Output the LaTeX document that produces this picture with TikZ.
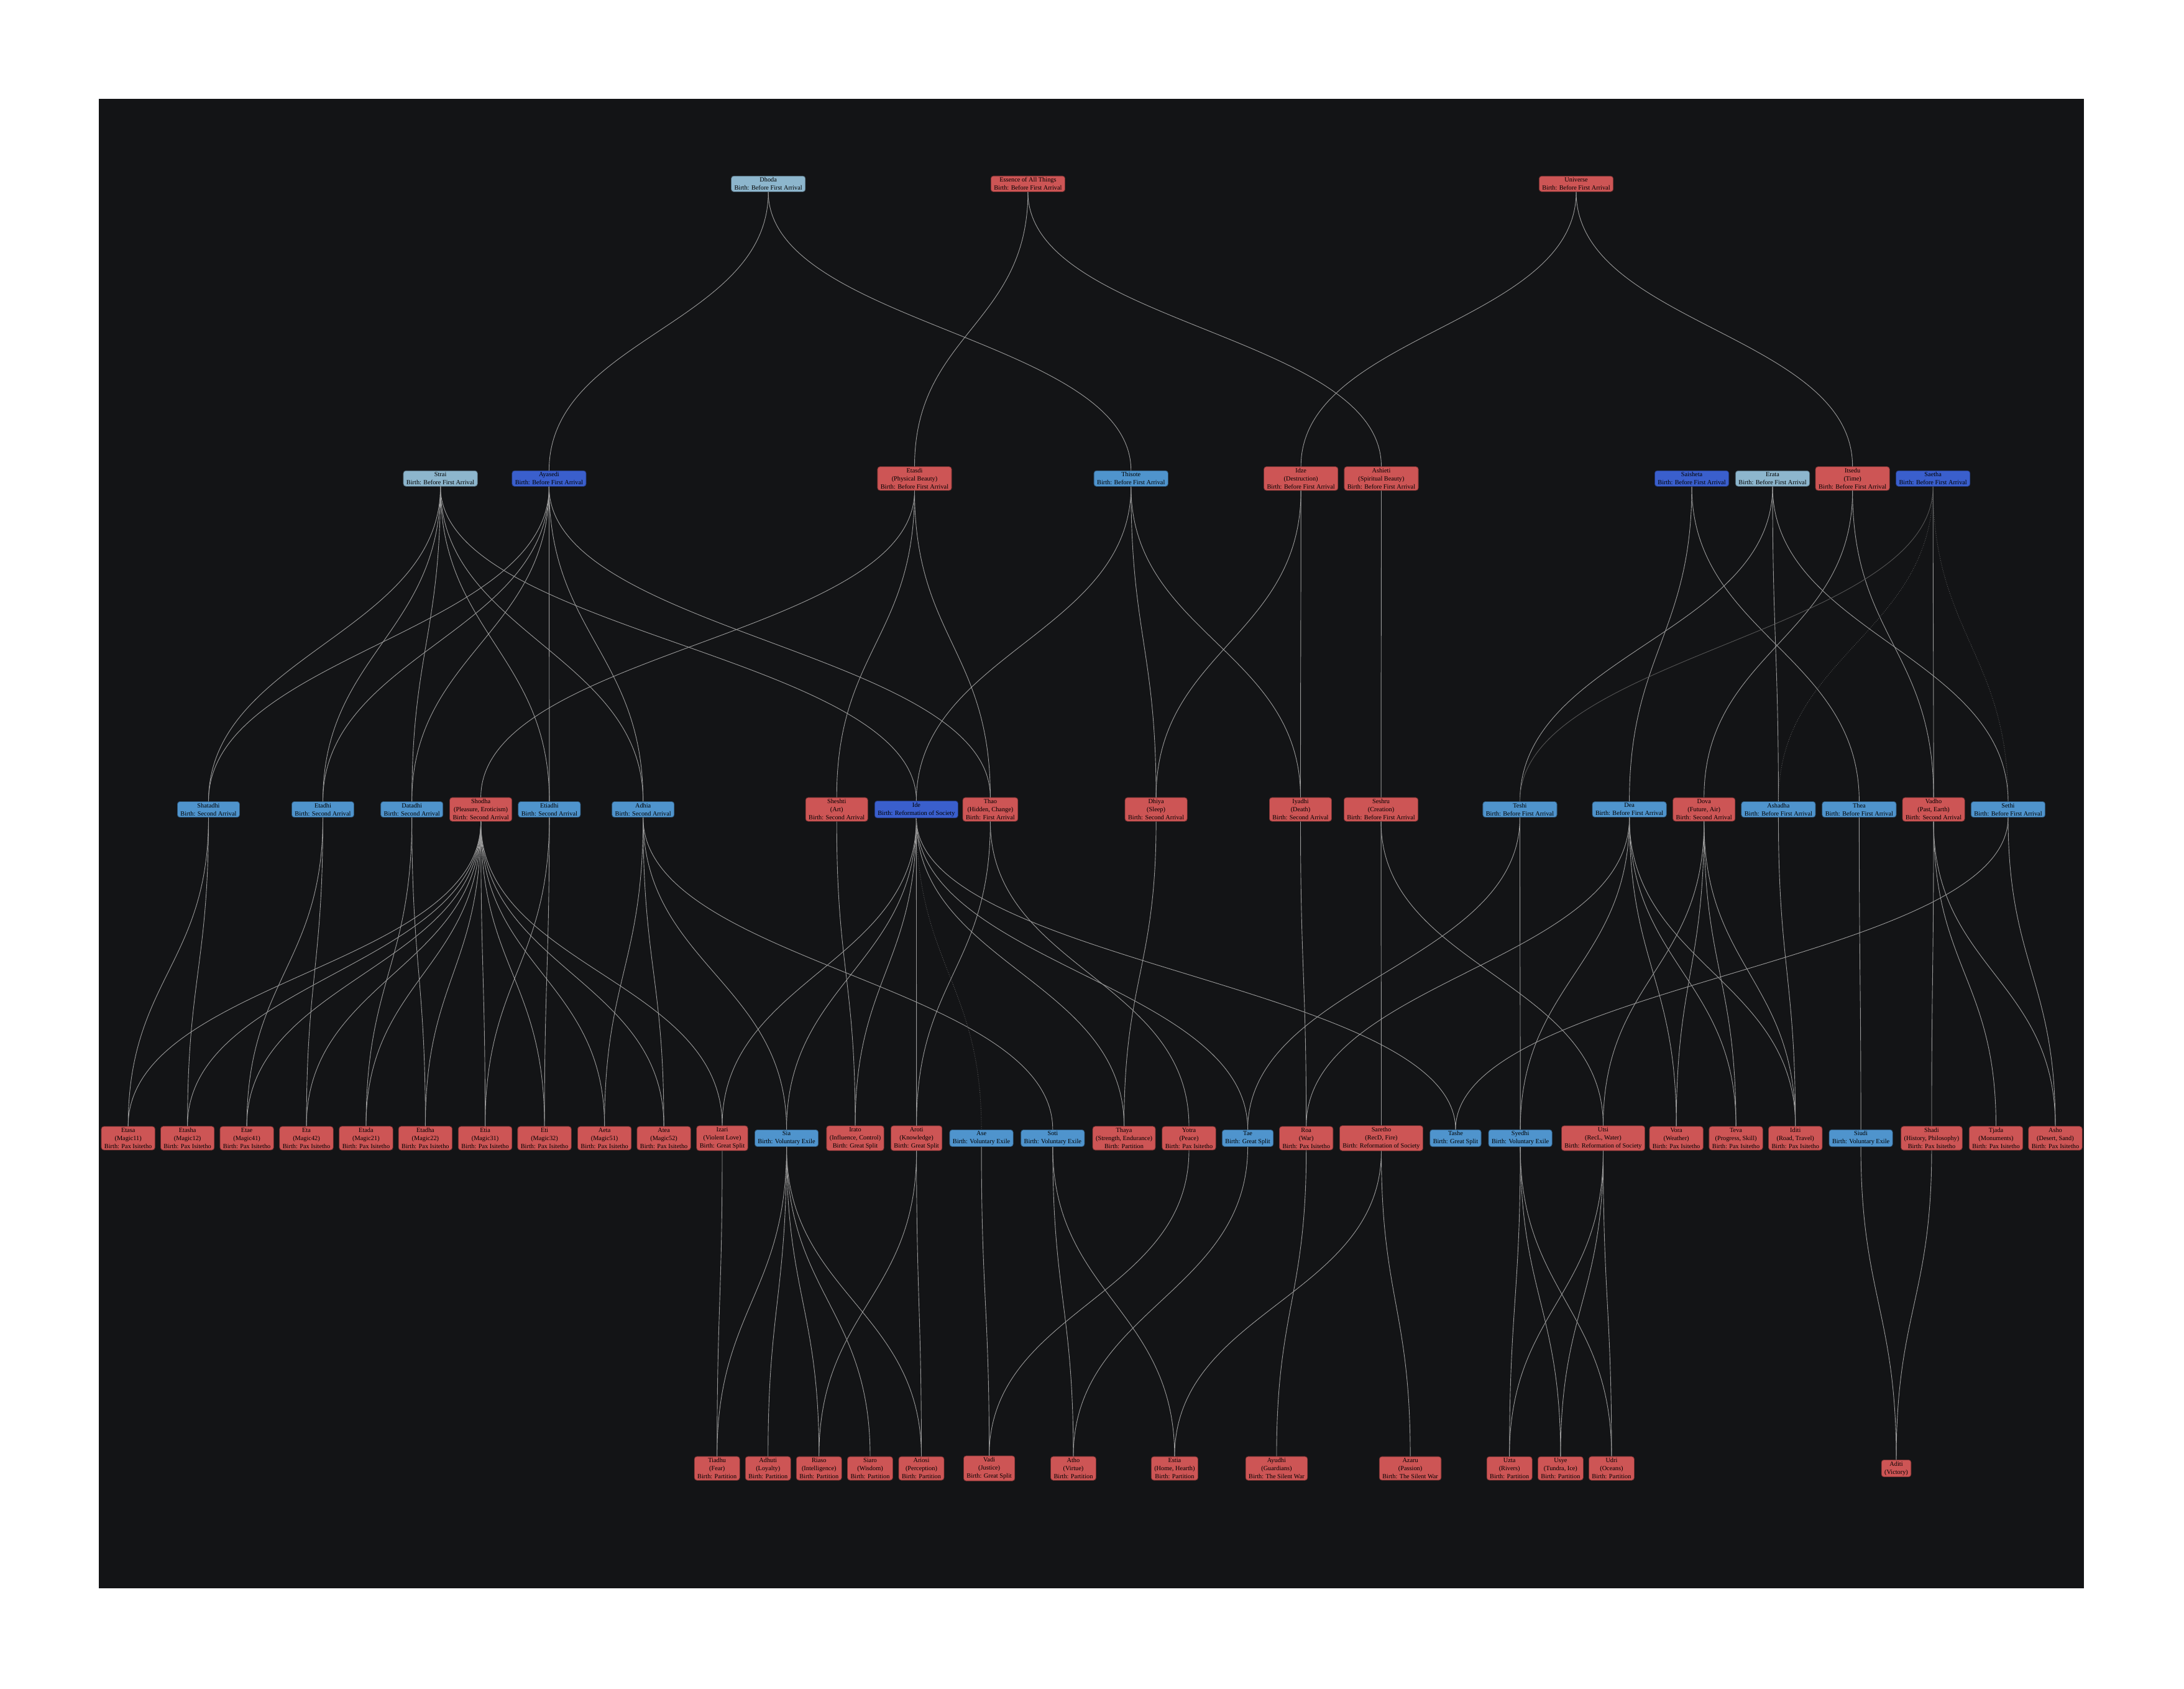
\documentclass[tikz,border=0pt]{standalone}
\usepackage{fontspec}
\setmainfont{Liberation Serif}
\definecolor{cred}{HTML}{CD5555}
\definecolor{clight}{HTML}{8DB6CD}
\definecolor{csteel}{HTML}{4F94CD}
\definecolor{croyal}{HTML}{3A5FCD}
\definecolor{cbg}{HTML}{131416}
\definecolor{cedge}{HTML}{9A9A9A}
\begin{document}
\begin{tikzpicture}[x=2.2411pt,y=-2.2411pt,
  box/.style={rounded corners=4pt, line width=0.8pt, align=center,
    font=\fontsize{10.3}{13}\selectfont, inner xsep=5pt, inner ysep=2.5pt, text=black},
  nred/.style={box, fill=cred, draw=cred!55!black},
  nlight/.style={box, fill=clight, draw=clight!55!black},
  nsteel/.style={box, fill=csteel, draw=csteel!55!black},
  nroyal/.style={box, fill=croyal, draw=croyal!55!black},
  edge/.style={draw=cedge, line width=0.9pt},
  darkedge/.style={draw=cedge!55!black, line width=0.9pt},
  dedge/.style={draw=cedge!60!black, line width=0.9pt, dotted},
  lk/.style={to path={.. controls +(0,#1) and +(0,-#1) .. (\tikztotarget)}}]
\useasboundingbox (0,0) rectangle (1568,1212);
\fill[white] (0,0) rectangle (1568,1212);
\fill[cbg] (71,71) rectangle (1496,1140);
% row 1
\node[nlight] (dhoda) at (551.6,132) {Dhoda\\Birth: Before First Arrival};
\node[nred] (essence) at (738,132) {Essence of All Things\\Birth: Before First Arrival};
\node[nred] (universe) at (1131.6,132) {Universe\\Birth: Before First Arrival};
% row 2
\node[nlight] (strai) at (316.2,343.5) {Strai\\Birth: Before First Arrival};
\node[nroyal] (ayasedi) at (394.2,343.5) {Ayasedi\\Birth: Before First Arrival};
\node[nred] (etasdi) at (656.6,343.5) {Etasdi\\(Physical Beauty)\\Birth: Before First Arrival};
\node[nsteel] (thisote) at (812,343.5) {Thisote\\Birth: Before First Arrival};
\node[nred] (idze) at (934,343.5) {Idze\\(Destruction)\\Birth: Before First Arrival};
\node[nred] (ashieti) at (991.7,343.5) {Ashieti\\(Spiritual Beauty)\\Birth: Before First Arrival};
\node[nroyal] (saisheta) at (1214.6,343.5) {Saisheta\\Birth: Before First Arrival};
\node[nlight] (erata) at (1272.6,343.5) {Erata\\Birth: Before First Arrival};
\node[nred] (itsedu) at (1330,343.5) {Itsedu\\(Time)\\Birth: Before First Arrival};
\node[nroyal] (saetha) at (1387.8,343.5) {Saetha\\Birth: Before First Arrival};
% row 3
\node[nsteel] (shatadhi) at (149.7,581) {Shatadhi\\Birth: Second Arrival};
\node[nsteel] (etadhi) at (231.8,581) {Etadhi\\Birth: Second Arrival};
\node[nsteel] (datadhi) at (295.7,581) {Datadhi\\Birth: Second Arrival};
\node[nred] (shodha) at (345.2,581) {Shodha\\(Pleasure, Eroticism)\\Birth: Second Arrival};
\node[nsteel] (etiadhi) at (394.4,581) {Etiadhi\\Birth: Second Arrival};
\node[nsteel] (adhia) at (461.7,581) {Adhia\\Birth: Second Arrival};
\node[nred] (sheshti) at (600.7,581) {Sheshti\\(Art)\\Birth: Second Arrival};
\node[nroyal] (ide) at (657.9,581) {Ide\\Birth: Reformation of Society};
\node[nred] (thao) at (711,581) {Thao\\(Hidden, Change)\\Birth: First Arrival};
\node[nred] (dhiya) at (830,581) {Dhiya\\(Sleep)\\Birth: Second Arrival};
\node[nred] (iyadhi) at (933.7,581) {Iyadhi\\(Death)\\Birth: Second Arrival};
\node[nred] (seshru) at (991.5,581) {Seshru\\(Creation)\\Birth: Before First Arrival};
\node[nsteel] (teshi) at (1091.2,581) {Teshi\\Birth: Before First Arrival};
\node[nsteel] (dea) at (1169.8,581) {Dea\\Birth: Before First Arrival};
\node[nred] (dova) at (1223.4,581) {Dova\\(Future, Air)\\Birth: Second Arrival};
\node[nsteel] (ashadha) at (1276.8,581) {Ashadha\\Birth: Before First Arrival};
\node[nsteel] (thea) at (1334.8,581) {Thea\\Birth: Before First Arrival};
\node[nred] (vadho) at (1388.2,581) {Vadho\\(Past, Earth)\\Birth: Second Arrival};
\node[nsteel] (sethi) at (1441.7,581) {Sethi\\Birth: Before First Arrival};
% row 4
\node[nred] (etasa) at (92,817) {Etasa\\(Magic11)\\Birth: Pax Isitetho};
\node[nred] (etasha) at (134.6,817) {Etasha\\(Magic12)\\Birth: Pax Isitetho};
\node[nred] (etae) at (177.2,817) {Etae\\(Magic41)\\Birth: Pax Isitetho};
\node[nred] (eta) at (220,817) {Eta\\(Magic42)\\Birth: Pax Isitetho};
\node[nred] (etada) at (262.8,817) {Etada\\(Magic21)\\Birth: Pax Isitetho};
\node[nred] (etadha) at (305.4,817) {Etadha\\(Magic22)\\Birth: Pax Isitetho};
\node[nred] (etia) at (348.3,817) {Etia\\(Magic31)\\Birth: Pax Isitetho};
\node[nred] (eti) at (390.9,817) {Eti\\(Magic32)\\Birth: Pax Isitetho};
\node[nred] (aeta) at (434,817) {Aeta\\(Magic51)\\Birth: Pax Isitetho};
\node[nred] (atea) at (476.6,817) {Atea\\(Magic52)\\Birth: Pax Isitetho};
\node[nred] (izari) at (518.5,817) {Izari\\(Violent Love)\\Birth: Great Split};
\node[nsteel] (sia) at (564.7,817) {Sia\\Birth: Voluntary Exile};
\node[nred] (irato) at (614,817) {Irato\\(Influence, Control)\\Birth: Great Split};
\node[nred] (aroti) at (658,817) {Aroti\\(Knowledge)\\Birth: Great Split};
\node[nsteel] (ase) at (704.6,817) {Ase\\Birth: Voluntary Exile};
\node[nsteel] (soti) at (755.8,817) {Soti\\Birth: Voluntary Exile};
\node[nred] (thaya) at (807,817) {Thaya\\(Strength, Endurance)\\Birth: Partition};
\node[nred] (yotra) at (853.6,817) {Yotra\\(Peace)\\Birth: Pax Isitetho};
\node[nsteel] (tae) at (895.8,817) {Tae\\Birth: Great Split};
\node[nred] (roa) at (937.8,817) {Roa\\(War)\\Birth: Pax Isitetho};
\node[nred] (saretho) at (991.7,817) {Saretho\\(RecD, Fire)\\Birth: Reformation of Society};
\node[nsteel] (tashe) at (1045,817) {Tashe\\Birth: Great Split};
\node[nsteel] (syedhi) at (1091.5,817) {Syedhi\\Birth: Voluntary Exile};
\node[nred] (utsi) at (1151,817) {Utsi\\(RecL, Water)\\Birth: Reformation of Society};
\node[nred] (vora) at (1203.5,817) {Vora\\(Weather)\\Birth: Pax Isitetho};
\node[nred] (teva) at (1246.3,817) {Teva\\(Progress, Skill)\\Birth: Pax Isitetho};
\node[nred] (iditi) at (1289,817) {Iditi\\(Road, Travel)\\Birth: Pax Isitetho};
\node[nsteel] (siudi) at (1336,817) {Siudi\\Birth: Voluntary Exile};
\node[nred] (shadi) at (1386.8,817) {Shadi\\(History, Philosophy)\\Birth: Pax Isitetho};
\node[nred] (tjada) at (1433,817) {Tjada\\(Monuments)\\Birth: Pax Isitetho};
\node[nred] (asho) at (1475.6,817) {Asho\\(Desert, Sand)\\Birth: Pax Isitetho};
% row 5
\node[nred] (tiadhu) at (514.8,1054) {Tiadhu\\(Fear)\\Birth: Partition};
\node[nred] (adhuti) at (551.4,1054) {Adhuti\\(Loyalty)\\Birth: Partition};
\node[nred] (riaso) at (588,1054) {Riaso\\(Intelligence)\\Birth: Partition};
\node[nred] (siaro) at (624.7,1054) {Siaro\\(Wisdom)\\Birth: Partition};
\node[nred] (ariosi) at (661.5,1054) {Ariosi\\(Perception)\\Birth: Partition};
\node[nred] (vadi) at (710.2,1054) {Vadi\\(Justice)\\Birth: Great Split};
\node[nred] (atho) at (770.6,1054) {Atho\\(Virtue)\\Birth: Partition};
\node[nred] (estia) at (843.3,1054) {Estia\\(Home, Hearth)\\Birth: Partition};
\node[nred] (ayudhi) at (916.5,1054) {Ayudhi\\(Guardians)\\Birth: The Silent War};
\node[nred] (azaru) at (1012.5,1054) {Azaru\\(Passion)\\Birth: The Silent War};
\node[nred] (uzta) at (1083.7,1054) {Uzta\\(Rivers)\\Birth: Partition};
\node[nred] (usye) at (1120.4,1054) {Usye\\(Tundra, Ice)\\Birth: Partition};
\node[nred] (udri) at (1157,1054) {Udri\\(Oceans)\\Birth: Partition};
\node[nred] (aditi) at (1361.4,1054) {Aditi\\(Victory)};
% edges row 1 -> 2
\foreach \a/\b in {dhoda/ayasedi, dhoda/thisote, essence/etasdi, essence/ashieti,
  universe/idze, universe/itsedu}
  \draw[edge] (\a.south) to[lk=95] (\b.north);
% edges row 2 -> 3
\foreach \a/\b in {strai/shatadhi, strai/etadhi, strai/datadhi, strai/etiadhi, strai/adhia, strai/ide,
  ayasedi/shatadhi, ayasedi/etadhi, ayasedi/datadhi, ayasedi/etiadhi, ayasedi/adhia, ayasedi/thao,
  etasdi/shodha, etasdi/sheshti, etasdi/thao,
  thisote/ide, thisote/dhiya, thisote/iyadhi,
  idze/dhiya, idze/iyadhi, ashieti/seshru,
  saisheta/dea, saisheta/thea, erata/teshi, erata/ashadha, erata/sethi,
  itsedu/dova, itsedu/vadho, saetha/vadho}
  \draw[edge] (\a.south) to[lk=105] (\b.north);
\draw[darkedge] (saetha.south) to[lk=105] (teshi.north);
\draw[dedge] (saetha.south) to[lk=105] (ashadha.north);
\draw[dedge] (saetha.south) to[lk=105] (sethi.north);
% edges row 3 -> 4
\foreach \a/\b in {shatadhi/etasa, shatadhi/etasha, etadhi/etae, etadhi/eta,
  datadhi/etada, datadhi/etadha, etiadhi/etia, etiadhi/eti, adhia/aeta, adhia/atea,
  adhia/sia, adhia/soti,
  shodha/etasa, shodha/etasha, shodha/etae, shodha/eta, shodha/etada, shodha/etadha,
  shodha/etia, shodha/eti, shodha/aeta, shodha/atea, shodha/izari,
  sheshti/irato, ide/izari, ide/sia, ide/irato, ide/aroti, ide/thaya, ide/tae, ide/tashe,
  thao/aroti, thao/yotra, dhiya/thaya, iyadhi/roa, seshru/saretho, seshru/utsi,
  teshi/tae, teshi/syedhi, dea/roa, dea/syedhi, dea/vora, dea/teva, dea/iditi,
  dova/utsi, dova/vora, dova/teva, dova/iditi, ashadha/iditi, thea/siudi,
  vadho/shadi, vadho/tjada, vadho/asho, sethi/tashe, sethi/asho}
  \draw[edge] (\a.south) to[lk=105] (\b.north);
\draw[dedge] (ide.south) to[lk=105] (ase.north);
% edges row 4 -> 5
\foreach \a/\b in {izari/tiadhu, sia/tiadhu, sia/adhuti, sia/riaso, sia/siaro, sia/ariosi,
  aroti/riaso, aroti/ariosi, ase/vadi, soti/atho, soti/estia, yotra/vadi, tae/atho,
  roa/ayudhi, saretho/estia, saretho/azaru, syedhi/uzta, syedhi/usye, syedhi/udri,
  utsi/uzta, utsi/usye, utsi/udri, siudi/aditi, shadi/aditi}
  \draw[edge] (\a.south) to[lk=105] (\b.north);
\end{tikzpicture}
\end{document}
